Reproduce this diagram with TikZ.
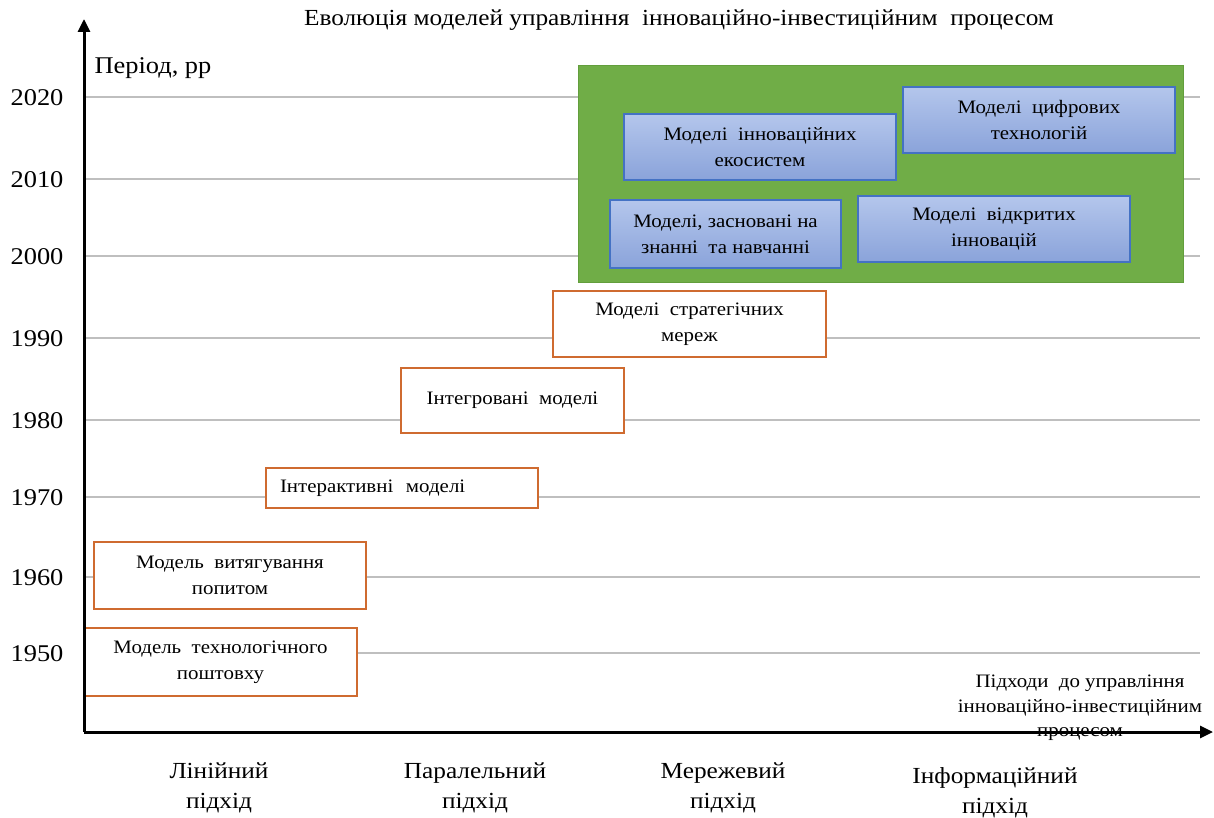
\documentclass[tikz,border=0pt]{standalone}
\usepackage{fontspec}
\setmainfont{Liberation Serif}[FakeStretch=1.1]
\usetikzlibrary{positioning,arrows.meta,calc}

\definecolor{gridgray}{RGB}{191,191,191}
\definecolor{orangeline}{RGB}{207,107,48}
\definecolor{greenfill}{RGB}{112,173,71}
\definecolor{greenline}{RGB}{98,158,60}
\definecolor{bluetop}{RGB}{180,198,236}
\definecolor{bluebot}{RGB}{138,163,218}
\definecolor{blueline}{RGB}{68,114,196}

\tikzset{
  oldmodel/.style={draw=orangeline, line width=1.4pt, fill=white, align=center,
    font=\fontsize{19}{26}\selectfont, inner sep=0pt},
  newmodel/.style={draw=blueline, line width=1.3pt, top color=bluetop, bottom color=bluebot,
    align=center, font=\fontsize{19}{26}\selectfont, inner sep=0pt},
  yearlabel/.style={font=\fontsize{24}{28}\selectfont},
  approach/.style={align=center, font=\fontsize{23}{30}\selectfont},
  axisline/.style={line width=3pt, -{Triangle[length=13pt,width=12pt]}},
}

\begin{document}
\begin{tikzpicture}[x=1pt,y=-1pt]
    \useasboundingbox (0,0) rectangle (1214,818);
    \coordinate (origin) at (84,732);
    \coordinate (ytip) at (84,19);
    \coordinate (xtip) at (1213,732);

    % grid of years
    \foreach \yr/\yy in {2020/97,2010/179,2000/256,1990/338,1980/420,1970/497,1960/577,1950/653}{
        \draw[gridgray, line width=1.6pt] (84,\yy) -- (1200,\yy);
        \node[yearlabel] (y\yr) at (37,\yy+1) {\yr};
    }

    \node[font=\fontsize{23}{26}\selectfont] (title) at (679,20)
        {Еволюція моделей управління\ \ інноваційно-інвестиційним\ \ процесом};
    \node[font=\fontsize{24}{28}\selectfont, anchor=west] (period) at (91,68) {Період, рр};

    % new models (green area)
    \node[fill=greenfill, draw=greenline, line width=1pt, minimum width=605pt, minimum height=216pt,
        inner sep=0pt] (zone) at (880.5,174) {};
    \node[newmodel, minimum width=272pt, minimum height=66pt] (eco) at (760,147)
        {Моделі\ \ інноваційних\\екосистем};
    \node[newmodel, minimum width=272pt, minimum height=66pt] (digit) at (1039,120)
        {Моделі\ \ цифрових\\технологій};
    \node[newmodel, minimum width=231pt, minimum height=68pt] (know) at (725.5,234)
        {Моделі,\ засновані\ на\\знанні\ \ та\ навчанні};
    \node[newmodel, minimum width=272pt, minimum height=66pt] (open) at (994,229)
        {Моделі\ \ відкритих\\інновацій};

    % older models
    \node[oldmodel, minimum width=273pt, minimum height=66pt] (strat) at (689.5,324)
        {Моделі\ \ стратегічних\\мереж};
    \node[oldmodel, minimum width=223pt, minimum height=65pt] (integr) at (512.5,400.5)
        {Інтегровані\ \ моделі};
    \node[oldmodel, minimum width=272pt, minimum height=40pt, align=left, text width=244pt,
        inner xsep=14pt] (inter) at (402,488) {Інтерактивні\ \ моделі};
    \node[oldmodel, minimum width=272pt, minimum height=67pt] (pull) at (230,575.5)
        {Модель\ \ витягування\\попитом};
    \node[oldmodel, minimum width=273pt, minimum height=68pt] (push) at (220.5,662)
        {Модель\ \ технологічного\\поштовху};

    \node[align=center, font=\fontsize{19}{24.5}\selectfont] (xname) at (1080,708)
        {Підходи\ \ до управління\\інноваційно-інвестиційним\\процесом};

    % axes
    \draw[axisline] (origin) -- (ytip);
    \draw[axisline] (origin) -- (xtip);

    % approaches
    \node[approach] (linear) at (219,788) {Лінійний\\підхід};
    \node[approach] (parallel) at (475,788) {Паралельний\\підхід};
    \node[approach] (network) at (723,788) {Мережевий\\підхід};
    \node[approach] (inform) at (995,793) {Інформаційний\\підхід};
\end{tikzpicture}
\end{document}
